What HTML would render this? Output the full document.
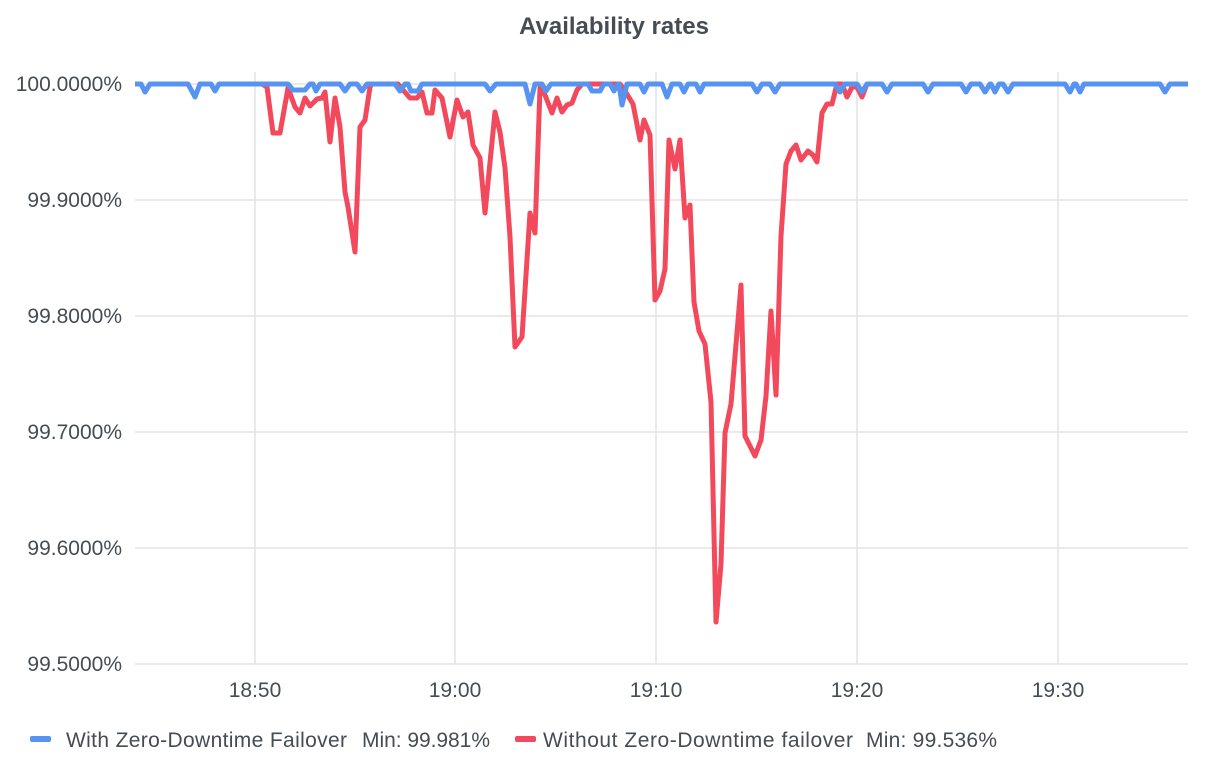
<!DOCTYPE html>
<html><head><meta charset="utf-8"><style>
html,body{margin:0;padding:0;background:#fff;}
svg text{font-family:"Liberation Sans",sans-serif;fill:#464c54;}
</style></head><body>
<svg width="1212" height="766" viewBox="0 0 1212 766" xmlns="http://www.w3.org/2000/svg">
<text x="614" y="34" font-size="24" font-weight="bold" text-anchor="middle">Availability rates</text>
<g stroke="#e4e4e4" stroke-width="1.5">
<line x1="135" y1="84" x2="1188" y2="84"/>
<line x1="135" y1="200" x2="1188" y2="200"/>
<line x1="135" y1="316" x2="1188" y2="316"/>
<line x1="135" y1="432" x2="1188" y2="432"/>
<line x1="135" y1="548" x2="1188" y2="548"/>
<line x1="135" y1="664" x2="1188" y2="664"/>
<line x1="255" y1="72" x2="255" y2="664"/>
<line x1="455" y1="72" x2="455" y2="664"/>
<line x1="656" y1="72" x2="656" y2="664"/>
<line x1="857" y1="72" x2="857" y2="664"/>
<line x1="1058" y1="72" x2="1058" y2="664"/>
</g>
<g font-size="21" text-anchor="end">
<text x="122" y="91">100.0000%</text>
<text x="122" y="207">99.9000%</text>
<text x="122" y="323">99.8000%</text>
<text x="122" y="439">99.7000%</text>
<text x="122" y="555">99.6000%</text>
<text x="122" y="671">99.5000%</text>
</g>
<g font-size="21" text-anchor="middle">
<text x="255" y="697">18:50</text>
<text x="455" y="697">19:00</text>
<text x="656" y="697">19:10</text>
<text x="857" y="697">19:20</text>
<text x="1058" y="697">19:30</text>
</g>
<polyline fill="none" stroke="#F2495C" stroke-width="5" stroke-linejoin="round" points="262,84 267,87 273,133 280,133 288,88 295,107 300,113 305,98 310,106 317,99 322,98 325,92 330,142 335,98 340,127 345,192 348,207 355,252 360,127 365,120 370,87 372,84 398,84 403,90 410,98 417,98 422,92 427,113 432,113 435,90 442,98 450,137 457,100 463,117 468,112 473,145 480,158 485,213 495,112 500,132 505,168 510,237 515,347 522,337 530,213 535,233 540,88 545,95 552,113 557,98 562,112 567,105 572,103 577,90 582,84 620,84 625,91 633,104 640,140 644,120 650,135 655,300 660,291 665,269 669,140 675,169 680,140 685,218 690,205 694,302 699,331 705,344 711,402 716,622 721,564 725,433 731,404 741,285 745,436 749,444 755,456 761,440 766,396 771,311 776,395 781,236 786,164 791,151 796,145 801,160 808,151 813,155 817,162 822,113 827,104 832,104 837,84 842,84 847,97 852,87 857,87 862,97 867,84"/>
<polyline fill="none" stroke="#5794F2" stroke-width="5" stroke-linejoin="round" points="135,84 141,84 145,92 150,84 188,84 195,97 200,84 211,84 215,91 219,84 288,84 293,90 305,90 310,84 313,84 316,91 320,84 340,84 345,91 350,84 357,84 362,91 367,84 395,84 400,91 405,84 408,84 411,91 418,91 422,84 485,84 490,91 496,84 525,84 530,104 535,84 542,84 546,91 551,84 588,84 592,91 600,91 604,84 610,84 614,91 618,84 619,84 622,105 627,84 640,84 644,92 648,84 662,84 667,97 672,84 680,84 684,92 688,84 696,84 700,92 704,84 752,84 757,92 762,84 770,84 775,92 780,84 835,84 840,92 845,84 857,84 862,92 867,84 882,84 887,92 892,84 923,84 928,92 933,84 961,84 966,92 971,84 980,84 985,92 990,84 991,84 995,92 999,84 1003,84 1008,92 1013,84 1065,84 1070,92 1074,84 1076,84 1080,92 1084,84 1160,84 1165,92 1170,84 1188,84"/>
<rect x="30" y="736" width="21" height="6" rx="2" fill="#5794F2"/>
<text x="66" y="747" font-size="21" textLength="281">With Zero-Downtime Failover</text>
<text x="362" y="747" font-size="21" textLength="128">Min: 99.981%</text>
<rect x="515" y="736" width="21" height="6" rx="2" fill="#F2495C"/>
<text x="543" y="747" font-size="21" textLength="310">Without Zero-Downtime failover</text>
<text x="866" y="747" font-size="21" textLength="131">Min: 99.536%</text>
</svg>
</body></html>
